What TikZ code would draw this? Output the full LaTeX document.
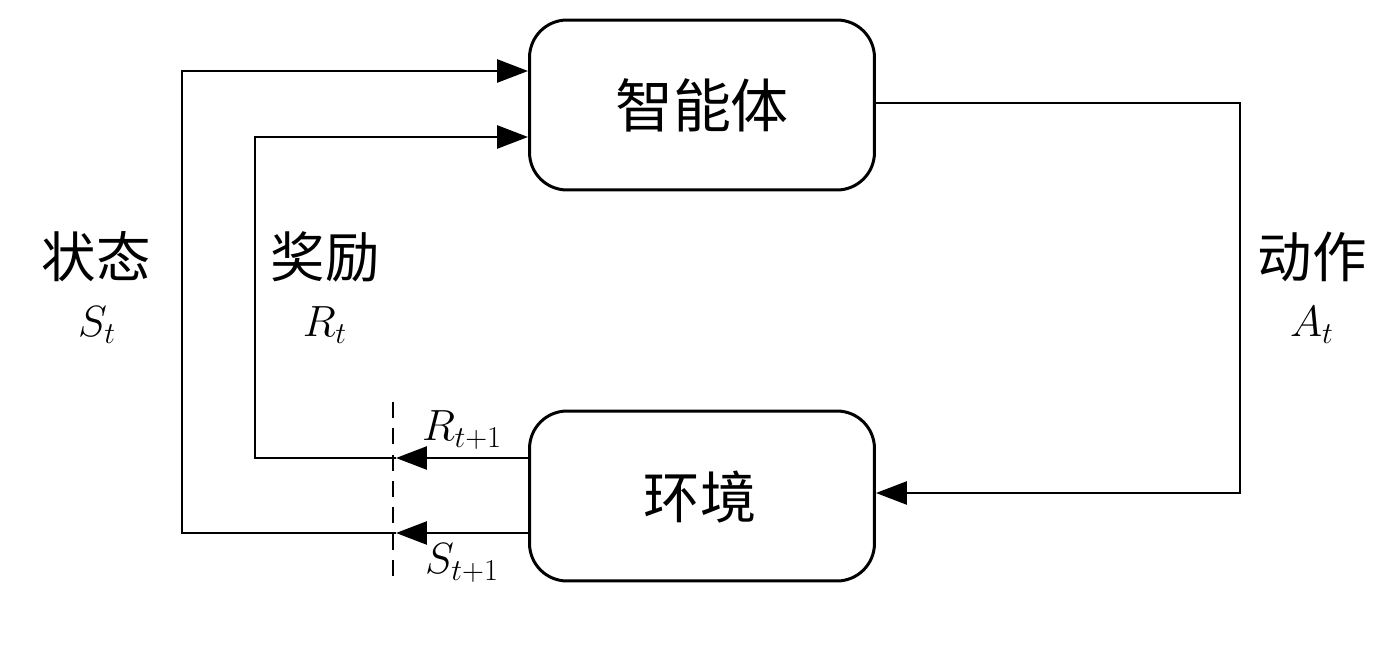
\documentclass[tikz,border=0pt]{standalone}
\usepackage{fontspec}
\newfontfamily\cjk{Noto Sans CJK SC}
\usetikzlibrary{arrows.meta}
\tikzset{
  box/.style={draw, line width=1.7pt, rounded corners=0.75cm, minimum width=6.9cm, minimum height=3.4cm, inner sep=0pt},
  conn/.style={line width=1.5pt},
  tip/.style={-{Triangle[length=0.62cm,width=0.46cm]}},
  cjklabel/.style={font=\cjk\fontsize{31}{36}\selectfont, inner sep=0pt},
  mlabel/.style={font=\fontsize{23}{28}\selectfont, inner sep=0pt},
}
\begin{document}
\begin{tikzpicture}[x=0.02cm,y=-0.02cm]
\useasboundingbox (0,0) rectangle (1400,645);
\node[box] (agent) at (702,105) {};
\node[cjklabel, font=\cjk\fontsize{33}{38}\selectfont] (agentt) at (702,105) {智能体};
\node[box] (env) at (702,496) {};
\node[cjklabel, font=\cjk\fontsize{32}{37}\selectfont] (envt) at (700,497) {环境};
% action
\coordinate (a1) at (1240,103);
\coordinate (a2) at (1240,493);
\draw[conn, tip] (agent.east |- a1) -- (a1) -- (a2) -- (env.east |- a2);
% dashed line
\coordinate (d1) at (393,402);
\coordinate (d2) at (393,582);
\draw[line width=1.3pt, dash pattern=on 9pt off 6pt] (d1) -- (d2);
% reward
\coordinate (rd) at (396,458);
\coordinate (r1) at (255,458);
\coordinate (r2) at (255,137);
\draw[conn, tip] (env.west |- rd) -- (rd);
\draw[conn, tip] (rd) -- (r1) -- (r2) -- (agent.west |- r2);
% state
\coordinate (sd) at (396,533);
\coordinate (s1) at (182,533);
\coordinate (s2) at (182,71);
\draw[conn, tip] (env.west |- sd) -- (sd);
\draw[conn, tip] (sd) -- (s1) -- (s2) -- (agent.west |- s2);
% labels
\node[cjklabel] (lst) at (96,257) {状态};
\node[mlabel] (lstm) at (97,325) {$S_t$};
\node[cjklabel] (lrw) at (325,257) {奖励};
\node[mlabel] (lrwm) at (325,325) {$R_t$};
\node[cjklabel] (lac) at (1312,257) {动作};
\node[mlabel] (lacm) at (1312,325) {$A_t$};
\node[mlabel] (lr1) at (462,430) {$R_{t+1}$};
\node[mlabel] (ls1) at (462,563) {$S_{t+1}$};
\end{tikzpicture}
\end{document}
